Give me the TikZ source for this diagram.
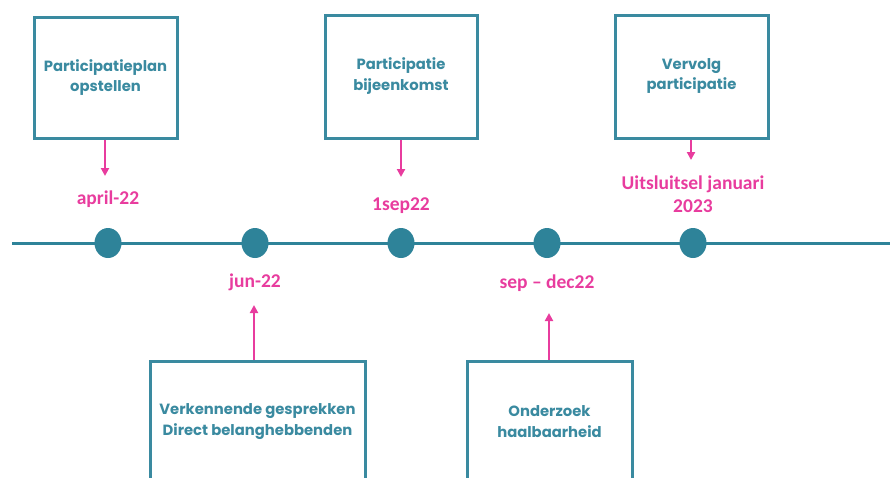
\documentclass[tikz,border=0pt]{standalone}
\usepackage{fontspec}
\newfontfamily\boxfont{Poppins Bold}
\newfontfamily\datefont{Carlito Bold}
\usetikzlibrary{arrows.meta,shapes.geometric}
\definecolor{teal}{RGB}{46,131,153}
\definecolor{boxteal}{RGB}{58,138,160}
\definecolor{pinkc}{RGB}{232,60,158}
\tikzset{
  stagebox/.style={draw=boxteal, line width=3pt, align=center, inner sep=0pt,
    font=\boxfont\fontsize{14.8}{20.5}\selectfont, text=boxteal},
  datelabel/.style={align=center, inner sep=0pt, text=pinkc,
    font=\datefont\fontsize{19.5}{23}\selectfont},
  dot/.style={ellipse, fill=teal, minimum width=27pt, minimum height=30pt, inner sep=0pt},
  pointer/.style={draw=pinkc, line width=2pt, -{Triangle[width=8pt,length=8pt]}},
}
\begin{document}
\begin{tikzpicture}[x=1pt,y=-1pt]
\useasboundingbox (0,0) rectangle (890,477);
\clip (0,0) rectangle (890,477);
% timeline
\coordinate (tl) at (12,243);
\coordinate (tr) at (892,243);
\draw[teal, line width=3pt] (tl) -- (tr);
\node[dot] (d1) at (108,243) {};
\node[dot] (d2) at (255,243) {};
\node[dot] (d3) at (401,243) {};
\node[dot] (d4) at (547,243) {};
\node[dot] (d5) at (693,243) {};
% top boxes
\node[stagebox, minimum width=143pt, minimum height=121pt] (b1) at (105.5,77.5) {Participatieplan\\opstellen};
\node[stagebox, minimum width=152pt, minimum height=123pt] (b2) at (401,76.5) {Participatie\\bijeenkomst\rule[-5pt]{0pt}{0pt}};
\node[stagebox, minimum width=153pt, minimum height=123pt] (b3) at (691.5,76.5) {Vervolg\\participatie\rule[-5pt]{0pt}{0pt}};
% bottom boxes
\node[stagebox, minimum width=215pt, minimum height=121pt] (b4) at (257.5,421.5) {Verkennende gesprekken\\Direct belanghebbenden};
\node[stagebox, minimum width=165pt, minimum height=121pt] (b5) at (549.5,421.5) {Onderzoek\\haalbaarheid};
% date labels
\node[datelabel] (l1) at (108,199) {april-22};
\node[datelabel] (l2) at (401,206) {1sep22};
\node[datelabel] (l3) at (693,194) {Uitsluitsel januari\\2023};
\node[datelabel] (l4) at (255,282) {jun-22};
\node[datelabel] (l5) at (547,283) {sep – dec22};
% pointers
\coordinate (p1) at (105,176);
\coordinate (p2) at (401,177);
\coordinate (p3) at (691,160);
\coordinate (p4) at (254,305);
\coordinate (p5) at (549,313);
\draw[pointer] (b1.south -| p1) -- (p1);
\draw[pointer] (b2.south -| p2) -- (p2);
\draw[pointer] (b3.south -| p3) -- (p3);
\draw[pointer] (b4.north -| p4) -- (p4);
\draw[pointer] (b5.north -| p5) -- (p5);
\end{tikzpicture}
\end{document}
